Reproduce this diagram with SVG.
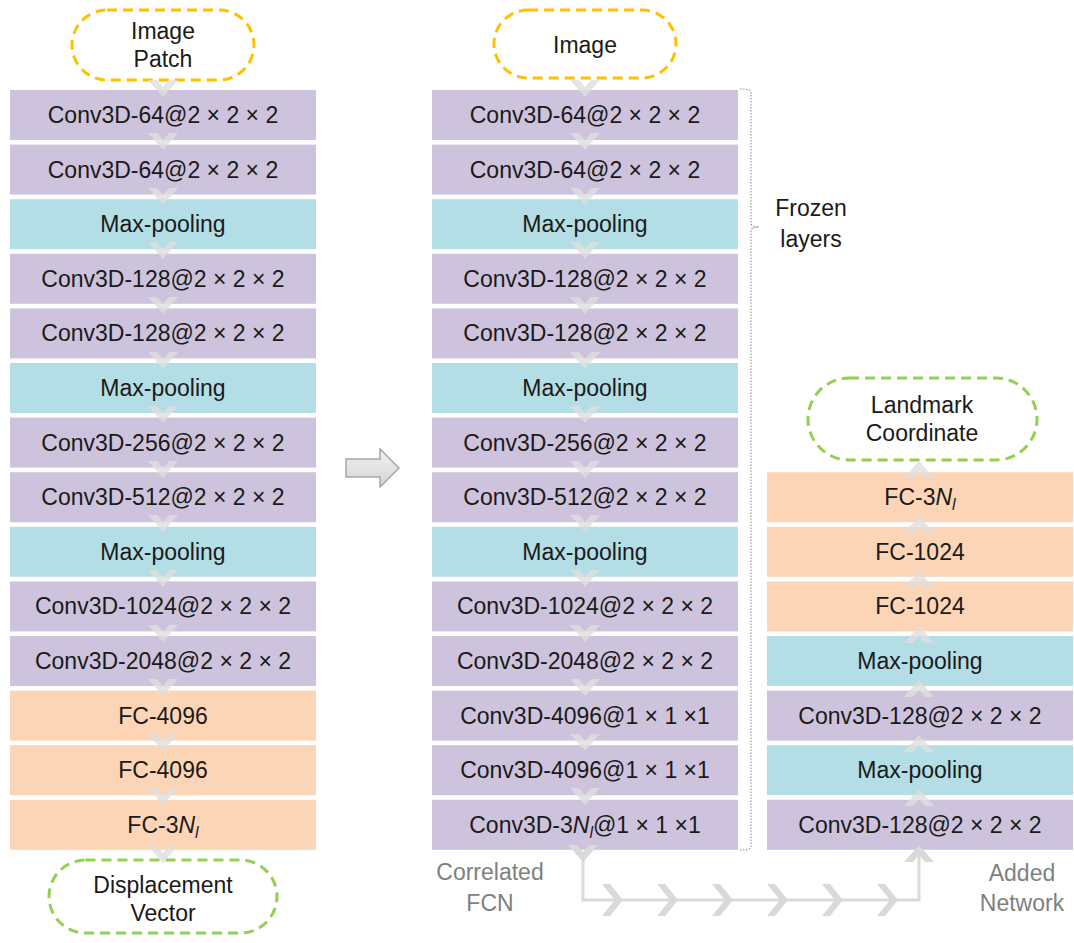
<svg xmlns="http://www.w3.org/2000/svg" width="1074" height="943" viewBox="0 0 1074 943">
  <defs>
    <style>
      text { font-family: "Liberation Sans", Arial, sans-serif; font-size: 23px; fill: #1a1a1a; text-anchor: middle; }
      .conv { fill: #cec3dc; }
      .pool { fill: #b3dee5; }
      .fc { fill: #fcd5b6; }
      .io-in { fill: #ffffff; stroke: #ffc000; stroke-width: 3; stroke-dasharray: 10 6; }
      .io-out { fill: #ffffff; stroke: #92d050; stroke-width: 3; stroke-dasharray: 10 6; }
      .chev { fill: #dedede; fill-opacity: 0.8; stroke: none; }
      .chev-link { fill: #d9d9d9; stroke: none; }
      .link { fill: none; stroke: #dadada; stroke-width: 3; }
      .note { fill: #7f7f7f; }
      .bracket { fill: none; stroke: #9a9a9a; stroke-width: 1.2; stroke-dasharray: 1.5 1.5; }
      .it { font-style: italic; }
    </style>
    <polygon id="chev-down" points="-15,-9 -6,-9 0,-2 6,-9 15,-9 0,8"/>
    <polygon id="chev-up" points="-15,9 -6,9 0,2 6,9 15,9 0,-8"/>
    <polygon id="chev-right" points="-10,-16 -2,-16 11,0 -2,16 -10,16 3,0"/>
    <linearGradient id="arrow-fill" x1="0" y1="0" x2="0" y2="1">
      <stop offset="0" stop-color="#f2f2f2"/>
      <stop offset="1" stop-color="#d4d4d4"/>
    </linearGradient>
  </defs>

  <!-- Left column: patch-based network -->
  <g id="left-input"><rect class="io-in" x="72" y="10" width="182" height="70" rx="35"/><text x="163" y="39">Image</text><text x="163" y="67">Patch</text></g>
  <g id="left-0"><rect class="conv" x="10" y="90" width="306" height="50"/><text x="163" y="123">Conv3D-64@2 × 2 × 2</text></g>
  <g id="left-1"><rect class="conv" x="10" y="144.6" width="306" height="50"/><text x="163" y="177.6">Conv3D-64@2 × 2 × 2</text></g>
  <g id="left-2"><rect class="pool" x="10" y="199.2" width="306" height="50"/><text x="163" y="232.2">Max-pooling</text></g>
  <g id="left-3"><rect class="conv" x="10" y="253.8" width="306" height="50"/><text x="163" y="286.8">Conv3D-128@2 × 2 × 2</text></g>
  <g id="left-4"><rect class="conv" x="10" y="308.4" width="306" height="50"/><text x="163" y="341.4">Conv3D-128@2 × 2 × 2</text></g>
  <g id="left-5"><rect class="pool" x="10" y="363" width="306" height="50"/><text x="163" y="396">Max-pooling</text></g>
  <g id="left-6"><rect class="conv" x="10" y="417.6" width="306" height="50"/><text x="163" y="450.6">Conv3D-256@2 × 2 × 2</text></g>
  <g id="left-7"><rect class="conv" x="10" y="472.2" width="306" height="50"/><text x="163" y="505.2">Conv3D-512@2 × 2 × 2</text></g>
  <g id="left-8"><rect class="pool" x="10" y="526.8" width="306" height="50"/><text x="163" y="559.8">Max-pooling</text></g>
  <g id="left-9"><rect class="conv" x="10" y="581.4" width="306" height="50"/><text x="163" y="614.4">Conv3D-1024@2 × 2 × 2</text></g>
  <g id="left-10"><rect class="conv" x="10" y="636" width="306" height="50"/><text x="163" y="669">Conv3D-2048@2 × 2 × 2</text></g>
  <g id="left-11"><rect class="fc" x="10" y="690.6" width="306" height="50"/><text x="163" y="723.6">FC-4096</text></g>
  <g id="left-12"><rect class="fc" x="10" y="745.2" width="306" height="50"/><text x="163" y="778.2">FC-4096</text></g>
  <g id="left-13"><rect class="fc" x="10" y="799.8" width="306" height="50"/><text x="163" y="832.8">FC-3<tspan class="it">N</tspan><tspan class="it" font-size="16" dy="5">l</tspan></text></g>
  <g id="left-output"><rect class="io-out" x="49" y="860" width="228" height="73" rx="36.5"/><text x="163" y="893">Displacement</text><text x="163" y="921">Vector</text></g>

  <!-- Transfer arrow -->
  <g id="transfer-arrow"><path d="M346,459 L380,459 L380,449 L399,468 L380,487 L380,477 L346,477 Z" fill="url(#arrow-fill)" stroke="#a6a6a6" stroke-width="1.5"/></g>

  <!-- Middle column: fully convolutional network -->
  <g id="mid-input"><rect class="io-in" x="494" y="10" width="182" height="68" rx="34"/><text x="585" y="53">Image</text></g>
  <g id="mid-0"><rect class="conv" x="432" y="90" width="306" height="50"/><text x="585" y="123">Conv3D-64@2 × 2 × 2</text></g>
  <g id="mid-1"><rect class="conv" x="432" y="144.6" width="306" height="50"/><text x="585" y="177.6">Conv3D-64@2 × 2 × 2</text></g>
  <g id="mid-2"><rect class="pool" x="432" y="199.2" width="306" height="50"/><text x="585" y="232.2">Max-pooling</text></g>
  <g id="mid-3"><rect class="conv" x="432" y="253.8" width="306" height="50"/><text x="585" y="286.8">Conv3D-128@2 × 2 × 2</text></g>
  <g id="mid-4"><rect class="conv" x="432" y="308.4" width="306" height="50"/><text x="585" y="341.4">Conv3D-128@2 × 2 × 2</text></g>
  <g id="mid-5"><rect class="pool" x="432" y="363" width="306" height="50"/><text x="585" y="396">Max-pooling</text></g>
  <g id="mid-6"><rect class="conv" x="432" y="417.6" width="306" height="50"/><text x="585" y="450.6">Conv3D-256@2 × 2 × 2</text></g>
  <g id="mid-7"><rect class="conv" x="432" y="472.2" width="306" height="50"/><text x="585" y="505.2">Conv3D-512@2 × 2 × 2</text></g>
  <g id="mid-8"><rect class="pool" x="432" y="526.8" width="306" height="50"/><text x="585" y="559.8">Max-pooling</text></g>
  <g id="mid-9"><rect class="conv" x="432" y="581.4" width="306" height="50"/><text x="585" y="614.4">Conv3D-1024@2 × 2 × 2</text></g>
  <g id="mid-10"><rect class="conv" x="432" y="636" width="306" height="50"/><text x="585" y="669">Conv3D-2048@2 × 2 × 2</text></g>
  <g id="mid-11"><rect class="conv" x="432" y="690.6" width="306" height="50"/><text x="585" y="723.6">Conv3D-4096@1 × 1 ×1</text></g>
  <g id="mid-12"><rect class="conv" x="432" y="745.2" width="306" height="50"/><text x="585" y="778.2">Conv3D-4096@1 × 1 ×1</text></g>
  <g id="mid-13"><rect class="conv" x="432" y="799.8" width="306" height="50"/><text x="585" y="832.8">Conv3D-3<tspan class="it">N</tspan><tspan class="it" font-size="16" dy="5">l</tspan><tspan dy="-5">@1 × 1 ×1</tspan></text></g>
  <g id="mid-label"><text class="note" x="490" y="880">Correlated</text><text class="note" x="490" y="911">FCN</text></g>

  <!-- Frozen-layer bracket -->
  <g id="frozen-bracket">
    <path class="bracket" d="M740,89 Q751,89 751,92 L751,223 Q751,227 759,227 Q751,227 751,231 L751,847 Q751,850 740,850"/>
    <text x="811" y="216">Frozen</text><text x="811" y="247">layers</text>
  </g>

  <!-- Right column: added regression network -->
  <g id="right-output"><rect class="io-out" x="808" y="378" width="229" height="82" rx="41"/><text x="922" y="413">Landmark</text><text x="922" y="441">Coordinate</text></g>
  <g id="right-7"><rect class="fc" x="767" y="472.2" width="306" height="50"/><text x="920" y="505.2">FC-3<tspan class="it">N</tspan><tspan class="it" font-size="16" dy="5">l</tspan></text></g>
  <g id="right-8"><rect class="fc" x="767" y="526.8" width="306" height="50"/><text x="920" y="559.8">FC-1024</text></g>
  <g id="right-9"><rect class="fc" x="767" y="581.4" width="306" height="50"/><text x="920" y="614.4">FC-1024</text></g>
  <g id="right-10"><rect class="pool" x="767" y="636" width="306" height="50"/><text x="920" y="669">Max-pooling</text></g>
  <g id="right-11"><rect class="conv" x="767" y="690.6" width="306" height="50"/><text x="920" y="723.6">Conv3D-128@2 × 2 × 2</text></g>
  <g id="right-12"><rect class="pool" x="767" y="745.2" width="306" height="50"/><text x="920" y="778.2">Max-pooling</text></g>
  <g id="right-13"><rect class="conv" x="767" y="799.8" width="306" height="50"/><text x="920" y="832.8">Conv3D-128@2 × 2 × 2</text></g>
  <g id="right-label"><text class="note" x="1022" y="881">Added</text><text class="note" x="1022" y="911">Network</text></g>

  <!-- Connectors: flow chevrons and the FCN-to-added-network link -->
  <g id="connectors">
    <path class="link" d="M583,852 L583,900 L919,900 L919,852"/>
    <g class="chev">
      <!-- left column, downward -->
      <use href="#chev-down" x="163" y="89"/>
      <use href="#chev-down" x="163" y="142"/>
      <use href="#chev-down" x="163" y="197"/>
      <use href="#chev-down" x="163" y="251"/>
      <use href="#chev-down" x="163" y="306"/>
      <use href="#chev-down" x="163" y="361"/>
      <use href="#chev-down" x="163" y="415"/>
      <use href="#chev-down" x="163" y="470"/>
      <use href="#chev-down" x="163" y="524"/>
      <use href="#chev-down" x="163" y="579"/>
      <use href="#chev-down" x="163" y="634"/>
      <use href="#chev-down" x="163" y="688"/>
      <use href="#chev-down" x="163" y="743"/>
      <use href="#chev-down" x="163" y="797"/>
      <use href="#chev-down" x="163" y="855"/>
      <!-- middle column, downward -->
      <use href="#chev-down" x="585" y="89"/>
      <use href="#chev-down" x="585" y="142"/>
      <use href="#chev-down" x="585" y="197"/>
      <use href="#chev-down" x="585" y="251"/>
      <use href="#chev-down" x="585" y="306"/>
      <use href="#chev-down" x="585" y="361"/>
      <use href="#chev-down" x="585" y="415"/>
      <use href="#chev-down" x="585" y="470"/>
      <use href="#chev-down" x="585" y="524"/>
      <use href="#chev-down" x="585" y="579"/>
      <use href="#chev-down" x="585" y="634"/>
      <use href="#chev-down" x="585" y="688"/>
      <use href="#chev-down" x="585" y="743"/>
      <use href="#chev-down" x="585" y="797"/>
      <!-- right column, upward -->
      <use href="#chev-up" x="919" y="797"/>
      <use href="#chev-up" x="919" y="743"/>
      <use href="#chev-up" x="919" y="688"/>
      <use href="#chev-up" x="919" y="634"/>
      <use href="#chev-up" x="919" y="579"/>
      <use href="#chev-up" x="919" y="524"/>
      <use href="#chev-up" x="919" y="469"/>
    </g>
    <g class="chev-link">
      <use href="#chev-down" x="583" y="854"/>
      <use href="#chev-right" x="612" y="900"/>
      <use href="#chev-right" x="667" y="900"/>
      <use href="#chev-right" x="722" y="900"/>
      <use href="#chev-right" x="777" y="900"/>
      <use href="#chev-right" x="832" y="900"/>
      <use href="#chev-right" x="887" y="900"/>
      <use href="#chev-up" x="919" y="853"/>
    </g>
  </g>
</svg>
